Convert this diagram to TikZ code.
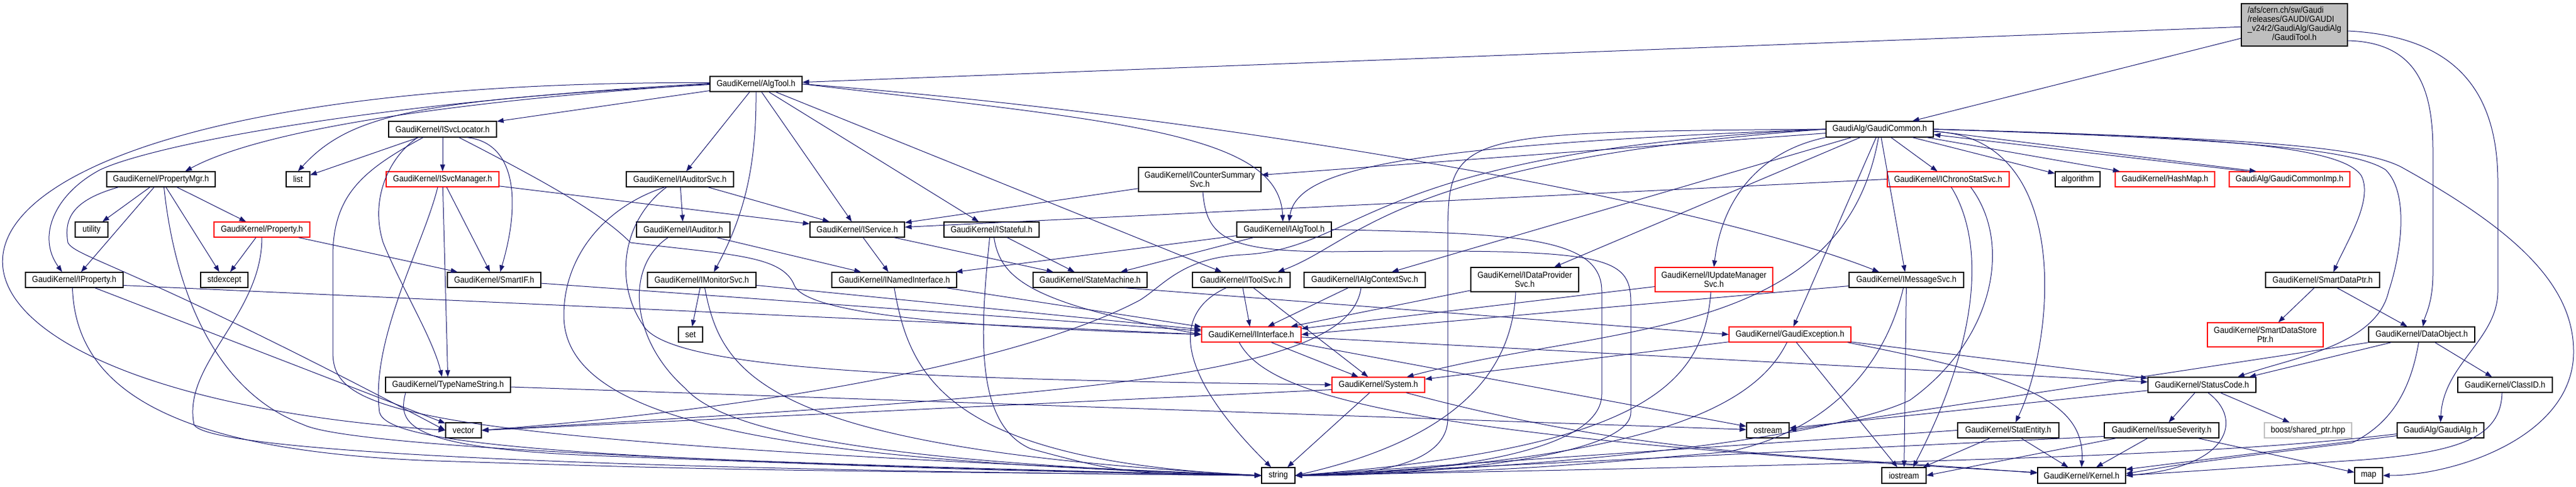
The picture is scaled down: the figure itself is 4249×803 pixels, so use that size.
\documentclass[tikz,border=0pt]{standalone}
\usepackage{fontspec}
\setmainfont{Liberation Sans}[FakeStretch=0.9]
\usetikzlibrary{arrows.meta}
\definecolor{edgeblue}{RGB}{25,25,112}
\definecolor{boxgray}{RGB}{191,191,191}
\tikzset{
  hfile/.style={draw=black, line width=1.2pt, fill=white, inner sep=0pt,
    minimum height=25pt, align=center, font=\fontsize{14.5}{15}\selectfont},
  hred/.style={hfile, draw=red},
  hgray/.style={hfile, draw=boxgray},
  dep/.style={draw=edgeblue, line width=1pt, -{Triangle[length=11pt,width=8pt]}}}

\begin{document}
\begin{tikzpicture}[x=1pt,y=1pt]
\useasboundingbox (0,0) rectangle (4249,-803);

\node[hfile, fill=boxgray, minimum width=175, minimum height=70] (root) at (3784.5,-41)
  {\begin{tabular}{@{}l@{}}/afs/cern.ch/sw/Gaudi\\/releases/GAUDI/GAUDI\\\_v24r2/GaudiAlg/GaudiAlg\\\multicolumn{1}{@{}c@{}}{/GaudiTool.h}\end{tabular}};

\node[hfile, minimum width=152] (algtool) at (1247,-138.5) {GaudiKernel/AlgTool.h};
\node[hfile, minimum width=177, minimum height=26] (gcommon) at (3100.5,-213) {GaudiAlg/GaudiCommon.h};
\node[hfile, minimum width=178, minimum height=26] (svcloc) at (730,-213) {GaudiKernel/ISvcLocator.h};

\node[hfile, minimum width=179] (propmgr) at (265.5,-295.5) {GaudiKernel/PropertyMgr.h};
\node[hfile, minimum width=39] (lst) at (491.5,-295.5) {list};
\node[hred, minimum width=186] (svcmgr) at (730,-295.5) {GaudiKernel/ISvcManager.h};
\node[hfile, minimum width=177] (audsvc) at (1121.5,-295.5) {GaudiKernel/IAuditorSvc.h};
\node[hfile, minimum width=202, minimum height=40] (cntsum) at (1979,-296) {GaudiKernel/ICounterSummary\\Svc.h};
\node[hred, minimum width=201] (chrono) at (3213.5,-295.5) {GaudiKernel/IChronoStatSvc.h};
\node[hfile, minimum width=74] (algo) at (3427,-295.5) {algorithm};
\node[hred, minimum width=164] (hashmap) at (3571,-295.5) {GaudiKernel/HashMap.h};
\node[hred, minimum width=199] (gcimp) at (3776.5,-295.5) {GaudiAlg/GaudiCommonImp.h};

\node[hfile, minimum width=54] (util) at (151,-378.5) {utility};
\node[hred, minimum width=158] (property) at (432,-378.5) {GaudiKernel/Property.h};
\node[hfile, minimum width=154] (auditor) at (1127,-378.5) {GaudiKernel/IAuditor.h};
\node[hfile, minimum width=156] (iservice) at (1414,-378.5) {GaudiKernel/IService.h};
\node[hfile, minimum width=157] (istateful) at (1635.5,-378.5) {GaudiKernel/IStateful.h};
\node[hfile, minimum width=156] (ialgtool) at (2118,-378.5) {GaudiKernel/IAlgTool.h};

\node[hfile, minimum width=161] (iprop) at (122.5,-461.5) {GaudiKernel/IProperty.h};
\node[hfile, minimum width=78] (stdexc) at (370,-461.5) {stdexcept};
\node[hfile, minimum width=154] (smartif) at (815,-461.5) {GaudiKernel/SmartIF.h};
\node[hfile, minimum width=179] (monsvc) at (1157.5,-461.5) {GaudiKernel/IMonitorSvc.h};
\node[hfile, minimum width=206] (namedif) at (1475,-461.5) {GaudiKernel/INamedInterface.h};
\node[hfile, minimum width=188] (statemach) at (1798,-461.5) {GaudiKernel/StateMachine.h};
\node[hfile, minimum width=161] (toolsvc) at (2047.5,-461.5) {GaudiKernel/IToolSvc.h};
\node[hfile, minimum width=200] (algctx) at (2251,-461.5) {GaudiKernel/IAlgContextSvc.h};
\node[hfile, minimum width=178, minimum height=40] (dataprov) at (2515,-461) {GaudiKernel/IDataProvider\\Svc.h};
\node[hred, minimum width=194, minimum height=40] (updmgr) at (2827,-461) {GaudiKernel/IUpdateManager\\Svc.h};
\node[hfile, minimum width=189] (msgsvc) at (3144.5,-461.5) {GaudiKernel/IMessageSvc.h};
\node[hfile, minimum width=188] (sdptr) at (3831,-461.5) {GaudiKernel/SmartDataPtr.h};

\node[hfile, minimum width=40] (sets) at (1139,-551.5) {set};
\node[hred, minimum width=164] (iinterface) at (2064,-551.5) {GaudiKernel/IInterface.h};
\node[hred, minimum width=201] (gexc) at (2952.5,-551.5) {GaudiKernel/GaudiException.h};
\node[hred, minimum width=191, minimum height=40] (sdsptr) at (3736.5,-552) {GaudiKernel/SmartDataStore\\Ptr.h};
\node[hfile, minimum width=175] (dataobj) at (3994.5,-551.5) {GaudiKernel/DataObject.h};

\node[hfile, minimum width=206] (typename) at (739,-634.5) {GaudiKernel/TypeNameString.h};
\node[hred, minimum width=153] (system) at (2273.5,-634.5) {GaudiKernel/System.h};
\node[hfile, minimum width=178] (statuscode) at (3632,-634.5) {GaudiKernel/StatusCode.h};
\node[hfile, minimum width=156] (classid) at (4132,-634.5) {GaudiKernel/ClassID.h};

\node[hfile, minimum width=59] (vec) at (764.5,-709.5) {vector};
\node[hfile, minimum width=70] (ostr) at (2916,-709.5) {ostream};
\node[hfile, minimum width=167] (statentity) at (3312.5,-709.5) {GaudiKernel/StatEntity.h};
\node[hfile, minimum width=189] (issue) at (3565.5,-709.5) {GaudiKernel/IssueSeverity.h};
\node[hgray, minimum width=144] (boost) at (3807,-709.5) {boost/shared\_ptr.hpp};
\node[hfile, minimum width=143] (gaudialg) at (4025.5,-709.5) {GaudiAlg/GaudiAlg.h};

\node[hfile, minimum width=55, minimum height=26] (str) at (2108.5,-784) {string};
\node[hfile, minimum width=73, minimum height=26] (iostr) at (3140.5,-784) {iostream};
\node[hfile, minimum width=145, minimum height=26] (kernel) at (3433.5,-784) {GaudiKernel/Kernel.h};
\node[hfile, minimum width=46, minimum height=26] (maps) at (3907,-784) {map};

% GaudiTool.h
\draw[dep] (root) -- (algtool);
\draw[dep] (root) -- (gcommon);
\draw[dep] ([yshift=-26pt]root.east) .. controls (3990,-70) and (4013,-150) .. (4013,-250) -- (4013,-450) .. controls (4013,-500) and (4000,-520) .. ([xshift=2pt]dataobj.north);
\draw[dep] ([yshift=-10pt]root.east) .. controls (4050,-60) and (4120,-150) .. (4120,-300) -- (4120,-480) .. controls (4120,-560) and (4030,-600) .. (gaudialg.north);

% AlgTool.h
\draw[dep] (algtool) -- (svcloc);
\draw[dep] ([yshift=2pt]algtool.west) .. controls (-300,-130) and (-300,-640) .. (vec.west);
\draw[dep] ([yshift=1pt]algtool.west) .. controls (600,-170) and (250,-240) .. (165,-280) .. controls (90,-320) and (60,-390) .. ([xshift=-20pt]iprop.north);
\draw[dep] (algtool.west) .. controls (700,-170) and (420,-220) .. ([xshift=40pt]propmgr.north);
\draw[dep] ([yshift=-1pt]algtool.west) .. controls (700,-165) and (580,-185) .. (lst.north);
\draw[dep] (algtool) -- (audsvc);
\draw[dep] (algtool.south) .. controls (1248,-280) and (1225,-360) .. ([xshift=20pt]monsvc.north);
\draw[dep] (algtool) -- (iservice);
\draw[dep] (algtool) -- (istateful);
\draw[dep] (algtool) -- (toolsvc);
\draw[dep] (algtool.east) .. controls (2000,-190) and (2800,-330) .. ([xshift=-45pt]msgsvc.north);
\draw[dep] (algtool.east) .. controls (1850,-200) and (2110,-220) .. ([xshift=-2pt]ialgtool.north);

% GaudiCommon.h
\draw[dep] (gcommon) -- (cntsum);
\draw[dep] (gcommon) -- (chrono);
\draw[dep] (gcommon) -- (algo);
\draw[dep] (gcommon) -- (hashmap);
\draw[dep] ([yshift=-3pt]gcommon.east) -- ([xshift=-55pt]gcimp.north);
\draw[dep] ([xshift=-70pt]gcimp.north) -- ([yshift=-9pt]gcommon.east);
\draw[dep] (gcommon.west) .. controls (2300,-240) and (2140,-280) .. ([xshift=8pt]ialgtool.north);
\draw[dep] (gcommon.west) .. controls (2300,-265) and (2240,-400) .. ([xshift=60pt]toolsvc.north);
\draw[dep] (gcommon.west) .. controls (2250,-250) and (2250,-410) .. (2050,-420) .. controls (1950,-425) and (1920,-470) .. (1880,-495) .. controls (1700,-590) and (1300,-670) .. (vec.east);
\draw[dep] (gcommon.west) .. controls (2388,-218) and (2388,-218) .. (2388,-400) -- (2388,-690) .. controls (2388,-770) and (2250,-784) .. (str.east);
\draw[dep] (gcommon) -- (algctx);
\draw[dep] (gcommon) -- (dataprov);
\draw[dep] (gcommon.south west) .. controls (2900,-250) and (2840,-330) .. (updmgr.north);
\draw[dep] (gcommon) -- (msgsvc);
\draw[dep] (gcommon) -- (gexc);
\draw[dep] ([xshift=-2pt]gcommon.south) .. controls (3039,-563) and (2650,-534) .. ([xshift=47pt]system.north);
\draw[dep] ([yshift=-4pt]gcommon.east) .. controls (3420,-225) and (3390,-560) .. ([xshift=12pt]statentity.north);
\draw[dep] (gcommon.east) .. controls (3600,-225) and (3860,-235) .. (3895,-290) .. controls (3915,-330) and (3870,-400) .. ([xshift=18pt]sdptr.north);
\draw[dep] (gcommon.east) .. controls (3700,-230) and (3880,-245) .. (3935,-280) .. controls (3975,-320) and (3960,-420) .. (3940,-480) .. controls (3920,-570) and (3780,-590) .. ([xshift=59pt]statuscode.north);
\draw[dep] (gcommon.east) .. controls (3700,-228) and (3890,-240) .. (3960,-275) .. controls (4150,-380) and (4245,-470) .. (4245,-580) .. controls (4245,-720) and (4050,-784) .. (maps.east);

% ISvcLocator.h, ISvcManager.h
\draw[dep] (svcloc) -- (lst);
\draw[dep] (svcloc) -- (svcmgr);
\draw[dep] ([xshift=40pt]svcloc.south) .. controls (850,-235) and (860,-330) .. ([xshift=10pt]smartif.north);
\draw[dep] ([xshift=-41pt]svcloc.south) .. controls (640,-260) and (610,-330) .. (632,-400) .. controls (660,-470) and (715,-560) .. ([xshift=-10pt]typename.north);
\draw[dep] ([xshift=27pt]svcloc.south) .. controls (900,-300) and (990,-350) .. (1040,-400) .. controls (1200,-420) and (1290,-420) .. (1310,-470) .. controls (1330,-520) and (1600,-540) .. (iinterface.west);
\draw[dep] ([xshift=-32pt]svcloc.south) .. controls (600,-280) and (550,-320) .. (549,-420) -- (549,-580) .. controls (549,-680) and (650,-725) .. (str.west);
\draw[dep] (svcmgr) -- (typename);
\draw[dep] (svcmgr) -- (smartif);
\draw[dep] (svcmgr) -- (iservice);
\draw[dep] ([xshift=-8pt]svcmgr.south) .. controls (700,-400) and (610,-560) .. (626,-680) .. controls (640,-730) and (900,-760) .. (str.west);

% PropertyMgr.h, Property.h, IProperty.h
\draw[dep] (propmgr) -- (util);
\draw[dep] (propmgr) -- (property);
\draw[dep] (propmgr) -- (iprop);
\draw[dep] (propmgr) -- (stdexc);
\draw[dep] ([xshift=-70pt]propmgr.south) .. controls (120,-330) and (105,-360) .. (112,-400) .. controls (125,-425) and (215,-435) .. (vec.west);
\draw[dep] ([xshift=5pt]propmgr.south) .. controls (285,-450) and (340,-640) .. (500,-700) .. controls (560,-730) and (1000,-760) .. (str.west);
\draw[dep] (property) -- (stdexc);
\draw[dep] (property) -- (smartif);
\draw[dep] (property.south) .. controls (432,-520) and (300,-600) .. (320,-700) .. controls (340,-745) and (1000,-775) .. (str.west);
\draw[dep] ([yshift=-9pt]iprop.east) -- (iinterface.west);
\draw[dep] (iprop) -- (vec);
\draw[dep] ([xshift=-3pt]iprop.south) .. controls (125,-650) and (300,-745) .. (720,-760) .. controls (1200,-775) .. (str.west);

% auditing, monitoring, services
\draw[dep] (audsvc) -- (iservice);
\draw[dep] (audsvc) -- (auditor);
\draw[dep] ([xshift=-25pt]audsvc.south) .. controls (1000,-340) and (930,-420) .. (930,-520) .. controls (930,-700) and (1300,-760) .. (str.west);
\draw[dep] ([xshift=-22pt]audsvc.south) .. controls (1030,-360) and (1010,-460) .. (1060,-535) .. controls (1100,-610) and (1500,-625) .. (system.west);
\draw[dep] (auditor) -- (namedif);
\draw[dep] ([xshift=-25pt]auditor.south) .. controls (1030,-440) and (1040,-560) .. (1130,-640) .. controls (1200,-720) and (1500,-765) .. (str.west);
\draw[dep] (monsvc) -- (sets);
\draw[dep] (monsvc) -- (iinterface);
\draw[dep] ([xshift=5pt]monsvc.south) .. controls (1190,-620) and (1260,-740) .. (str.west);
\draw[dep] (iservice) -- (namedif);
\draw[dep] (iservice) -- (statemach);
\draw[dep] ([xshift=4pt]istateful.south) .. controls (1650,-460) and (1700,-500) .. (iinterface.west);
\draw[dep] (istateful) -- (statemach);
\draw[dep] ([xshift=-3pt]istateful.south) .. controls (1615,-560) and (1610,-700) .. (1700,-740) .. controls (1850,-780) .. (str.west);
\draw[dep] (namedif) -- (iinterface);
\draw[dep] (namedif.south) .. controls (1500,-620) and (1560,-760) .. (str.west);
\draw[dep] ([xshift=57pt]statemach.south) -- (gexc.west);
\draw[dep] (ialgtool) -- (namedif);
\draw[dep] (ialgtool) -- (statemach);
\draw[dep] (ialgtool.east) .. controls (2500,-385) and (2642,-390) .. (2642,-480) -- (2642,-650) .. controls (2642,-760) and (2300,-782) .. (str.east);
\draw[dep] (cntsum) -- (iservice);
\draw[dep] ([xshift=5pt]cntsum.south) .. controls (1990,-390) and (2020,-415) .. (2200,-415) .. controls (2650,-410) and (2690,-420) .. (2690,-500) -- (2690,-680) .. controls (2690,-760) and (2300,-786) .. (str.east);
\draw[dep] ([xshift=20pt]toolsvc.south) -- ([xshift=-17pt]system.north);
\draw[dep] (toolsvc) -- (iinterface);
\draw[dep] ([xshift=-25pt]toolsvc.south) .. controls (1935,-515) and (1935,-610) .. ([xshift=-12pt]str.north);
\draw[dep] (algctx) -- (iinterface);
\draw[dep] ([xshift=-6pt]algctx.south) .. controls (2225,-620) and (1800,-650) .. (vec.east);
\draw[dep] (dataprov) -- (iinterface);
\draw[dep] ([xshift=-15pt]dataprov.south) .. controls (2495,-600) and (2420,-720) .. (str.east);
\draw[dep] (updmgr) -- (iinterface);
\draw[dep] ([xshift=-5pt]updmgr.south) .. controls (2810,-640) and (2700,-740) .. (str.east);
\draw[dep] ([yshift=-10pt]msgsvc.west) -- (iinterface.east);
\draw[dep] (msgsvc) -- (iostr);
\draw[dep] ([xshift=-5pt]msgsvc.south) .. controls (3110,-600) and (3020,-710) .. (2850,-745) .. controls (2500,-775) .. (str.east);
\draw[dep] (chrono.west) -- ([yshift=4pt]iservice.east);
\draw[dep] ([xshift=5pt]chrono.south) .. controls (3275,-400) and (3265,-560) .. ([xshift=15pt]iostr.north);
\draw[dep] ([xshift=37pt]chrono.south) .. controls (3320,-400) and (3290,-560) .. (3150,-660) .. controls (3000,-730) and (2500,-775) .. (str.east);
\draw[dep] (smartif) -- (iinterface);
\draw[dep] (typename) -- (ostr);
\draw[dep] ([xshift=-70pt]typename.south) .. controls (655,-700) and (670,-740) .. (1000,-752) .. controls (1600,-775) .. (str.west);

% IInterface.h, System.h, GaudiException.h
\draw[dep] (iinterface) -- (system);
\draw[dep] (iinterface) -- (statuscode);
\draw[dep] (iinterface) -- (ostr);
\draw[dep] ([xshift=-20pt]iinterface.south) .. controls (2090,-650) and (2300,-720) .. ([yshift=5pt]kernel.west);
\draw[dep] (system) -- (str);
\draw[dep] ([yshift=-8pt]system.west) -- (vec.east);
\draw[dep] ([xshift=46pt]system.south) .. controls (2716,-753) and (2953,-748) .. ([yshift=4pt]kernel.west);
\draw[dep] (gexc) -- (system);
\draw[dep] ([xshift=-5pt]gexc.south) .. controls (2900,-660) and (2750,-760) .. (str.east);
\draw[dep] (gexc) -- (iostr);
\draw[dep] (gexc) -- (statuscode);
\draw[dep] ([xshift=95pt]gexc.south) .. controls (3330,-620) and (3440,-660) .. (kernel.north);

% StatusCode.h and the rest
\draw[dep] (statuscode) -- (issue);
\draw[dep] (statuscode) -- (boost);
\draw[dep] ([xshift=10pt]statuscode.south) .. controls (3700,-690) and (3680,-770) .. (kernel.east);
\draw[dep] (statuscode) -- (ostr);
\draw[dep] (issue) -- (maps);
\draw[dep] (issue) -- (kernel);
\draw[dep] ([yshift=-10pt]issue.west) -- (str.east);
\draw[dep] ([xshift=-75pt]issue.south) -- (iostr.east);
\draw[dep] (statentity) -- (iostr);
\draw[dep] (statentity) -- (kernel);
\draw[dep] (statentity.west) -- (str.east);
\draw[dep] ([xshift=-50pt]dataobj.south) -- ([xshift=78pt]statuscode.north);
\draw[dep] (dataobj) -- (classid);
\draw[dep] ([xshift=-87pt]dataobj.south) -- (ostr.east);
\draw[dep] ([xshift=-5pt]dataobj.south) .. controls (3975,-650) and (3940,-700) .. (3880,-730) .. controls (3600,-765) .. ([yshift=3pt]kernel.east);
\draw[dep] ([xshift=-5pt]classid.south) .. controls (4125,-720) and (4060,-745) .. (3900,-758) .. controls (3600,-778) .. (kernel.east);
\draw[dep] ([yshift=-6pt]gaudialg.west) .. controls (3700,-745) and (3400,-760) .. (str.east);
\draw[dep] ([yshift=-9pt]gaudialg.west) -- ([yshift=10pt]kernel.east);
\draw[dep] (sdptr) -- (sdsptr);
\draw[dep] (sdptr) -- (dataobj);
\end{tikzpicture}
\end{document}
